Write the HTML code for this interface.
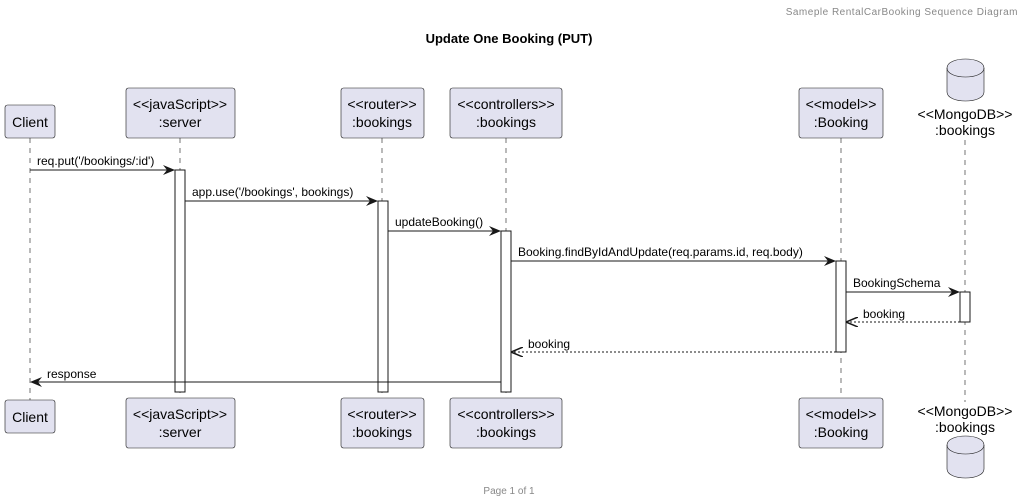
<!DOCTYPE html>
<html><head><meta charset="utf-8"><style>
html,body{margin:0;padding:0;background:#fff;}
svg{display:block;font-family:"Liberation Sans",sans-serif;}
</style></head><body>
<svg width="1026" height="502" viewBox="0 0 1026 502" xmlns="http://www.w3.org/2000/svg">
<defs>
<marker id="a" viewBox="0 0 12 10" refX="11" refY="5" markerWidth="12" markerHeight="10" markerUnits="userSpaceOnUse" orient="auto">
<path d="M0,0 L12,5 L0,10 L4,5 Z" fill="#181818"/></marker>
<marker id="o" viewBox="0 0 12 10" refX="11" refY="5" markerWidth="12" markerHeight="10" markerUnits="userSpaceOnUse" orient="auto">
<path d="M0,0 L12,5 L0,10" fill="none" stroke="#181818" stroke-width="1.5"/></marker>
</defs>
<text x="1018" y="15" font-size="10" fill="#888" text-anchor="end" letter-spacing="0.5">Sameple RentalCarBooking Sequence Diagram</text>
<text x="509" y="43" font-size="13" font-weight="bold" text-anchor="middle" fill="#000">Update One Booking (PUT)</text>
<g stroke="#181818" stroke-width="0.6" stroke-dasharray="5,5">
<line x1="30" y1="138" x2="30" y2="400"/>
<line x1="180" y1="138" x2="180" y2="398"/>
<line x1="382" y1="138" x2="382" y2="398"/>
<line x1="506" y1="138" x2="506" y2="398"/>
<line x1="841" y1="138" x2="841" y2="398"/>
<line x1="965" y1="140" x2="965" y2="402"/>
</g>
<g fill="#e2e2f0" stroke="#181818" stroke-width="0.6">
<rect x="5" y="105" width="50" height="33" rx="2.5"/>
<rect x="126" y="88" width="109" height="50" rx="2.5"/>
<rect x="341" y="88" width="83" height="50" rx="2.5"/>
<rect x="450" y="88" width="112" height="50" rx="2.5"/>
<rect x="799" y="88" width="84" height="50" rx="2.5"/>
<rect x="5" y="400" width="50" height="33" rx="2.5"/>
<rect x="126" y="398" width="109" height="50" rx="2.5"/>
<rect x="341" y="398" width="83" height="50" rx="2.5"/>
<rect x="450" y="398" width="112" height="50" rx="2.5"/>
<rect x="799" y="398" width="84" height="50" rx="2.5"/>
<path d="M947,68 C947,56 984,56 984,68 L984,92 C984,104 947,104 947,92 Z"/>
<path d="M947,68 C947,80 984,80 984,68" fill="none"/>
<path d="M947,445 C947,433 984,433 984,445 L984,469 C984,481 947,481 947,469 Z"/>
<path d="M947,445 C947,457 984,457 984,445" fill="none"/>
</g>
<g font-size="14" fill="#000" text-anchor="middle">
<text x="30" y="127">Client</text>
<text x="180" y="109">&lt;&lt;javaScript&gt;&gt;</text><text x="180" y="127">:server</text>
<text x="382" y="109">&lt;&lt;router&gt;&gt;</text><text x="382" y="127">:bookings</text>
<text x="506" y="109">&lt;&lt;controllers&gt;&gt;</text><text x="506" y="127">:bookings</text>
<text x="841" y="109">&lt;&lt;model&gt;&gt;</text><text x="841" y="127">:Booking</text>
<text x="965" y="119">&lt;&lt;MongoDB&gt;&gt;</text><text x="965" y="135">:bookings</text>
<text x="30" y="422">Client</text>
<text x="180" y="419">&lt;&lt;javaScript&gt;&gt;</text><text x="180" y="437">:server</text>
<text x="382" y="419">&lt;&lt;router&gt;&gt;</text><text x="382" y="437">:bookings</text>
<text x="506" y="419">&lt;&lt;controllers&gt;&gt;</text><text x="506" y="437">:bookings</text>
<text x="841" y="419">&lt;&lt;model&gt;&gt;</text><text x="841" y="437">:Booking</text>
<text x="965" y="416">&lt;&lt;MongoDB&gt;&gt;</text><text x="965" y="432">:bookings</text>
</g>
<g fill="#fff" stroke="#181818" stroke-width="1">
<rect x="175" y="170" width="10" height="222"/>
<rect x="378" y="201" width="10" height="191"/>
<rect x="501" y="231" width="10" height="161"/>
<rect x="836" y="261" width="10" height="91"/>
<rect x="960" y="292" width="10" height="30"/>
</g>
<g stroke="#181818" stroke-width="1" fill="none">
<line x1="30" y1="170" x2="174" y2="170" marker-end="url(#a)"/>
<line x1="185" y1="201" x2="377" y2="201" marker-end="url(#a)"/>
<line x1="388" y1="231" x2="500" y2="231" marker-end="url(#a)"/>
<line x1="511" y1="261" x2="835" y2="261" marker-end="url(#a)"/>
<line x1="846" y1="292" x2="959" y2="292" marker-end="url(#a)"/>
<line x1="960" y1="322" x2="847" y2="322" stroke-dasharray="2,2" marker-end="url(#o)"/>
<line x1="836" y1="352" x2="512" y2="352" stroke-dasharray="2,2" marker-end="url(#o)"/>
<line x1="501" y1="382" x2="31" y2="382" marker-end="url(#a)"/>
</g>
<g font-size="12" fill="#000">
<text x="37" y="165">req.put('/bookings/:id')</text>
<text x="192" y="196">app.use('/bookings', bookings)</text>
<text x="395" y="226">updateBooking()</text>
<text x="518" y="256">Booking.findByIdAndUpdate(req.params.id, req.body)</text>
<text x="853" y="287">BookingSchema</text>
<text x="863" y="318">booking</text>
<text x="528" y="348">booking</text>
<text x="47" y="378">response</text>
</g>
<text x="509" y="494" font-size="10" fill="#888" text-anchor="middle">Page 1 of 1</text>
</svg>
</body></html>
